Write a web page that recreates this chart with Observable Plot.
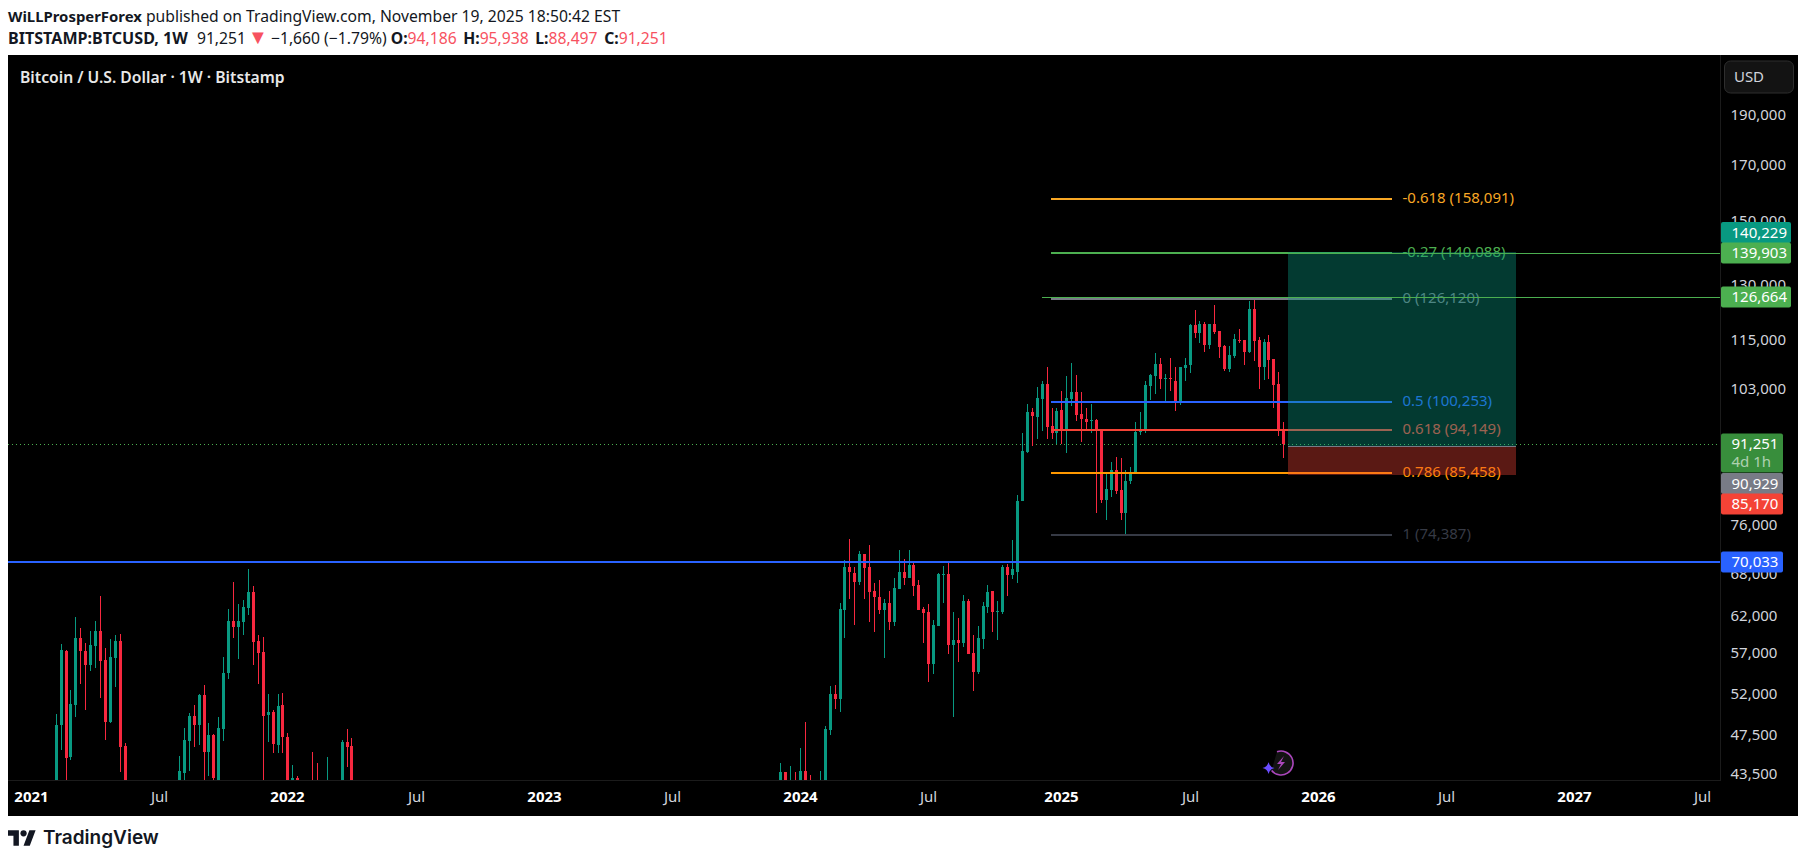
<!DOCTYPE html>
<html>
<head>
<meta charset="utf-8">
<script src="https://cdn.jsdelivr.net/npm/d3@7"></script>
<script src="https://cdn.jsdelivr.net/npm/@observablehq/plot@0.6"></script>
<style>
  html,body{margin:0;padding:0;background:#fff;width:1806px;height:862px;overflow:hidden;font-family:"Noto Sans",sans-serif;}
  #head{position:absolute;left:8px;top:0;height:55px;color:#131722;font-size:15.7px;white-space:nowrap;}
  #head div{height:22px;line-height:22px;}
  #head .l1{margin-top:5px;}
  #head b{font-weight:700;}
  #head .n1{font-size:14.9px;}
  #head .n2{font-size:16.1px;margin-right:5px;}
  #head .r{color:#f7525f;}
  #head .tri{font-size:20px;line-height:0;margin:0 -1px 0 -2px;}
  #head .gap{margin-left:2.5px;}
  #chart{position:absolute;left:8px;top:55px;}
  #foot{position:absolute;left:8px;top:826px;display:flex;align-items:center;color:#131722;}
  #foot span{font-family:Inter,sans-serif;font-weight:600;font-size:19px;margin-left:7px;line-height:24px;}
</style>
</head>
<body>
<div id="head">
  <div class="l1"><b class="n1">WiLLProsperForex</b> published on TradingView.com, November 19, 2025 18:50:42 EST</div>
  <div><b class="n2">BITSTAMP:BTCUSD, 1W</b> 91,251 <span class="r tri">▼</span> −1,660 (−1.79%) <b>O:</b><span class="r">94,186</span> <b class="gap">H:</b><span class="r">95,938</span> <b class="gap">L:</b><span class="r">88,497</span> <b class="gap">C:</b><span class="r">91,251</span></div>
</div>
<div id="chart"></div>
<div id="foot">
  <svg width="28" height="22" viewBox="0 0 36 28"><path fill="#131722" d="M14 24H7V11H0V4h14v20zM28 24h-8l7.5-20h8L28 24z"/><circle cx="20" cy="8" r="4" fill="#131722"/></svg>
  <span>TradingView</span>
</div>
<script>
// Weekly bars, week number counted from the week of 2021-01-04
const barWeek = [
  5,6,7,8,9,10,11,12,13,14,15,16,17,18,19,
  30,31,32,33,34,35,36,37,38,39,40,41,42,43,44,45,46,47,48,49,50,51,52,53,54,57,58,60,63,64,65,
  152,153,154,155,156,157,158,160,161,162,163,164,165,166,167,168,169,170,171,172,173,174,175,176,177,178,179,180,
  181,182,183,184,185,186,187,188,189,190,191,192,193,194,195,196,197,198,199,200,
  201,202,203,204,205,206,207,208,209,210,211,212,213,214,215,216,217,218,219,220,221,222,223,224,225,226,227,228,229,230,231,
  232,233,234,235,236,237,238,239,240,241,242,243,244,245,246,247,248,249,250,251,252,253,254];
const barOpen = [
  38800,48600,57400,45300,50910,59090,57400,55620,58050,60000,56260,49000,56500,58650,46430,
  39800,43650,46880,49680,48640,51960,45760,47570,41000,48200,54580,61450,60600,61300,63200,65500,58700,57300,49780,50110,46500,50910,47370,41800,43200,42500,42100,37700,41000,46800,46430,
  39970,43790,41400,42800,42200,43920,41800,42000,42500,48140,52130,51550,62900,69260,68360,67000,71360,69330,65650,64810,62900,63920,61250,65900,68520,67570,69610,66500,
  63030,62600,55800,60700,68100,68200,58200,58800,58400,64250,57150,54780,58950,63300,65650,62600,62600,69260,67980,68520,
  80310,89630,97990,96870,100930,104380,94950,93450,98400,94450,100930,102500,97600,96500,96100,96300,94300,80500,82300,86100,82300,78100,83950,85300,93650,94300,103900,106250,109200,105500,105800,
  105100,100500,108100,108800,119100,116970,119300,114000,119300,117500,113600,108000,111100,115200,115200,112000,123500,115200,108300,114700,110300,104400,94186];
const barHigh = [
  49900,58350,57560,52640,61900,60500,58400,60000,61450,64950,57800,58900,59500,59600,46700,
  45360,48350,50000,50900,52100,53200,48900,47700,49500,56600,63000,67000,63750,64350,69000,66400,59500,59200,52100,50250,52100,52300,47800,44500,43400,45800,44700,45250,47000,48200,47200,
  44680,43800,44380,43790,46190,49000,43500,43920,48480,53050,53160,63920,70300,73800,69200,71800,71360,72800,66830,67270,64500,65650,67570,71980,70550,71980,70250,67300,
  63300,63750,61500,68400,69400,70030,62600,61800,65100,64500,59500,60700,64000,66550,65650,64260,69590,69700,73600,81380,
  93500,99800,98900,103700,105100,108430,99000,98900,102800,106200,109400,106500,102500,98900,99700,96500,94300,85300,87700,88700,88500,86100,86600,95900,97990,105100,106700,111900,110700,106700,110570,
  108400,108300,110600,119300,123200,120100,119800,119300,124600,117500,113900,113600,116800,118000,115200,125700,126200,115900,115500,116400,110300,107200,95938];
const barLow = [
  37900,45950,42800,45000,49550,53300,50300,54850,55250,51700,47000,48900,53000,43790,30000,
  37300,42800,43890,46260,46500,39000,43400,40000,40700,46880,53900,59090,56400,59500,62200,55620,53300,42000,46800,45650,45700,45700,40000,39500,33000,41700,37000,37000,40500,44300,39000,
  39800,40300,40500,41500,40800,41500,40500,41000,42300,47560,50460,50020,59100,64500,60800,66500,64500,61300,59900,62360,56500,60150,60700,65900,66520,67570,64960,62900,
  58500,53600,54500,60700,63900,57000,49500,56000,57900,57000,52500,54500,57600,62500,59950,58800,62360,64960,67500,66900,
  80310,89400,90800,92200,94000,92300,92300,91300,91300,89400,99400,96100,91600,94450,93450,78100,80000,76900,81000,81600,77000,74500,83400,85300,93000,93450,100700,102100,103200,100500,102800,
  98200,99500,105100,107000,115700,114500,112200,112900,116700,110700,107500,107300,110700,114500,108800,111800,109800,103100,105300,105500,98800,92900,88497];
const barClose = [
  48640,57560,45130,51010,59090,57400,55620,58200,60000,56100,49000,56660,58650,46300,37000,
  43890,47060,49680,48640,51960,45760,47570,43190,48350,54680,61450,60600,61400,63300,65500,58600,57100,49680,50110,46600,50800,47370,41500,43200,35000,42100,38000,41500,46800,46300,41800,
  43790,41400,42700,42200,43920,41800,41500,43000,48250,52130,51550,63030,69260,68490,67000,71360,69190,65480,64750,62900,63920,61250,66050,68520,67570,69610,66400,62900,
  62470,55700,60900,68200,68200,58200,58800,58400,64250,57000,54780,59090,63500,65500,62600,62730,69260,67980,68950,80310,
  89840,97990,97100,101170,104380,94800,93450,98200,94450,101170,102500,97400,96400,95850,96300,94450,80500,82500,86100,82100,78100,83950,85500,93780,94300,104150,106500,109200,105500,105800,105500,
  100500,108300,109000,119100,116970,119300,114000,119300,117200,113400,108000,111400,115500,115000,112000,123500,115000,108300,114700,110000,104200,94150,91251];

const upColor = "#089981";
const downColor = "#f7283f";

// Price scale and time axis labels
const priceTicks = [190000,170000,150000,130000,115000,103000,76000,68000,62000,57000,52000,47500,43500];
const yearTicks = ["2021-01-04","2022-01-03","2023-01-02","2024-01-01","2025-01-06","2026-01-05","2027-01-04"];
const julyTicks = ["2021-07-05","2022-07-04","2023-07-03","2024-07-01","2025-07-07","2026-07-06","2027-07-05"];

// Fibonacci drawing
const fibLevel = ["-0.618","-0.27","0","0.5","0.618","0.786","1"];
const fibPrice = [158091,140088,126120,100253,94149,85458,74387];
const fibColor = ["#f9a825","#4caf50","#787b86","#2962ff","#f44336","#ff9800","#363a45"];
const fibStart = "2024-12-22";
const fibEnd = "2026-04-21";

// Long position drawing
const boxStart = "2025-11-24";
const boxEnd = "2026-10-13";
const targetPrice = 140229;
const entryPrice = 90929;
const stopPrice = 85170;

// Horizontal levels
const lastPrice = 91251;
const supportPrice = 70033;
const upperRayPrices = [139903,126664];
const upperRayStarts = ["2025-11-24","2024-12-09"];

// Labels on the price axis
const tagPrice = [140229,139903,126664,91251,90929,85170,70033];
const tagColor = ["#089981","#4caf50","#4caf50","#388e3c","#787b86","#f44336","#2962ff"];
const tagWide = [true,true,true,false,false,false,false];
const tagNudge = [-19.5,0,0,0,37.5,29,0];
const countdown = "4d 1h";

const D = s => new Date(s + "T00:00:00Z");
const bars = barWeek.map((w,i) => ({
  date: new Date(Date.UTC(2021,0,4 + w*7)),
  open: barOpen[i], high: barHigh[i], low: barLow[i], close: barClose[i],
  color: barClose[i] >= barOpen[i] ? upColor : downColor
}));
const fib = fibPrice.map((p,i) => ({price:p, level:fibLevel[i], color:fibColor[i]}));
const axisFont = '"Noto Sans",sans-serif';

function priceTags(index, scales) {
  const g = d3.create("svg:g").attr("font-family", axisFont).attr("font-size", 15).attr("text-anchor","start");
  const left = 1713;
  tagPrice.forEach((p,i) => {
    const cy = Math.round(scales.y(p)) + tagNudge[i];
    const two = p === lastPrice;
    g.append("rect").attr("x", left).attr("y", cy - 10.5).attr("width", tagWide[i] ? 70 : 62)
      .attr("height", two ? 39 : 21).attr("rx", 2).attr("fill", tagColor[i]);
    g.append("text").attr("x", left + 10.5).attr("y", cy).attr("dy", "0.35em").attr("fill", "#fff")
      .text(d3.format(",")(p));
    if (two) g.append("text").attr("x", left + 10.5).attr("y", cy + 18).attr("dy", "0.35em")
      .attr("fill", "rgba(255,255,255,.6)").text(countdown);
  });
  return g.node();
}

function currencyButton() {
  const g = d3.create("svg:g").attr("font-family", axisFont);
  g.append("rect").attr("x",1716.5).attr("y",6).attr("width",69).attr("height",32).attr("rx",6)
    .attr("fill","#131313").attr("stroke","#2e2e2e");
  g.append("text").attr("x",1741).attr("y",22).attr("dy","0.35em").attr("text-anchor","middle")
    .attr("font-size",15).attr("fill","#d1d4dc").text("USD");
  return g.node();
}

function boltBadge() {
  const g = d3.create("svg:g").attr("transform","translate(1273,708)");
  g.append("path").attr("d","M-9.4 7.4 A12 12 0 1 0 -4 -11.3 M-9.4 7.4 A12 12 0 0 0 -6 10.4").attr("fill","#131313").attr("stroke","#ab47bc").attr("stroke-width",1.6);
  g.append("path").attr("d","M3 -7 L-4 1 L0 1 L-3 7 L4 -1 L0 -1 Z").attr("fill","#ab47bc");
  g.append("path").attr("d","M-12.5 -1 Q-11.5 4 -6.5 5 Q-11.5 6 -12.5 11 Q-13.5 6 -18.5 5 Q-13.5 4 -12.5 -1 Z").attr("fill","#6a4cff");
  return g.node();
}

const plot = Plot.plot({
  width: 1790,
  height: 761,
  marginTop: 0,
  marginLeft: 0,
  marginRight: 78,
  marginBottom: 36,
  style: {background:"#000", fontFamily: axisFont, fontSize:"15px", overflow:"hidden"},
  color: {type:"identity"},
  x: {
    type:"utc", axis:null, round:true,
    domain:[D("2021-01-04"),D("2027-07-05")],
    range:[23,1694.3]
  },
  y: {type:"log", axis:null, round:true, domain:[43000,218000], range:[725,0]},
  marks: [
    Plot.frame({anchor:"right", stroke:"#1b1b1b"}),
    Plot.frame({anchor:"bottom", stroke:"#1b1b1b"}),
    Plot.ruleY([lastPrice], {stroke:"#4caf50", strokeWidth:1, strokeDasharray:"1 3"}),
    Plot.ruleX(bars, {x:"date", y1:"low", y2:"high", stroke:d=>d.color, strokeWidth:1, clip:true}),
    Plot.ruleX(bars, {x:"date", y1:"open", y2:"close", stroke:d=>d.color, strokeWidth:3, clip:true}),
    Plot.ruleY([supportPrice], {stroke:"#2962ff", strokeWidth:2, dy:-.5}),
    Plot.ruleY(fib, {y:"price", x1:()=>D(fibStart), x2:()=>D(fibEnd), stroke:d=>d.color, strokeWidth:2, dy:-.5}),
    Plot.text(fib, {y:"price", x:()=>D(fibEnd), text:d=>`${d.level} (${d3.format(",")(d.price)})`, fill:d=>d.color,
      textAnchor:"start", dx:10, fontSize:15, dy:-1}),
    Plot.rect([{}], {x1:()=>D(boxStart), x2:()=>D(boxEnd), y1:()=>entryPrice, y2:()=>targetPrice, fill:"#089981", fillOpacity:.38}),
    Plot.rect([{}], {x1:()=>D(boxStart), x2:()=>D(boxEnd), y1:()=>stopPrice, y2:()=>entryPrice, fill:"#f44336", fillOpacity:.37}),
    Plot.ruleY([entryPrice], {x1:()=>D(boxStart), x2:()=>D(boxEnd), stroke:"#787b86", strokeWidth:1}),
    Plot.ruleY(upperRayPrices, {x1:(d,i)=>D(upperRayStarts[i]), x2:()=>D("2028-06-01"), stroke:"#4caf50", strokeWidth:1, clip:true}),
    Plot.axisY(priceTicks, {anchor:"right", tickSize:0, tickPadding:10, dy:-1, tickFormat:d3.format(","), fill:"#d1d4dc", fontSize:15, label:null}),
    Plot.axisX(yearTicks.map(D), {anchor:"bottom", tickSize:0, tickPadding:11, tickFormat:d3.utcFormat("%Y"), fill:"#fff", fontWeight:700, fontSize:15, label:null}),
    Plot.axisX(julyTicks.map(D), {anchor:"bottom", tickSize:0, tickPadding:11, tickFormat:d3.utcFormat("%b"), fill:"#d1d4dc", fontSize:15, label:null}),
    Plot.text(["Bitcoin / U.S. Dollar · 1W · Bitstamp"], {frameAnchor:"top-left", dx:11.5, dy:22, lineAnchor:"middle", fill:"#e8e8e8", fontWeight:600, fontSize:15.7}),
    priceTags,
    currencyButton,
    boltBadge
  ]
});
document.getElementById("chart").appendChild(plot);
</script>
</body>
</html>
